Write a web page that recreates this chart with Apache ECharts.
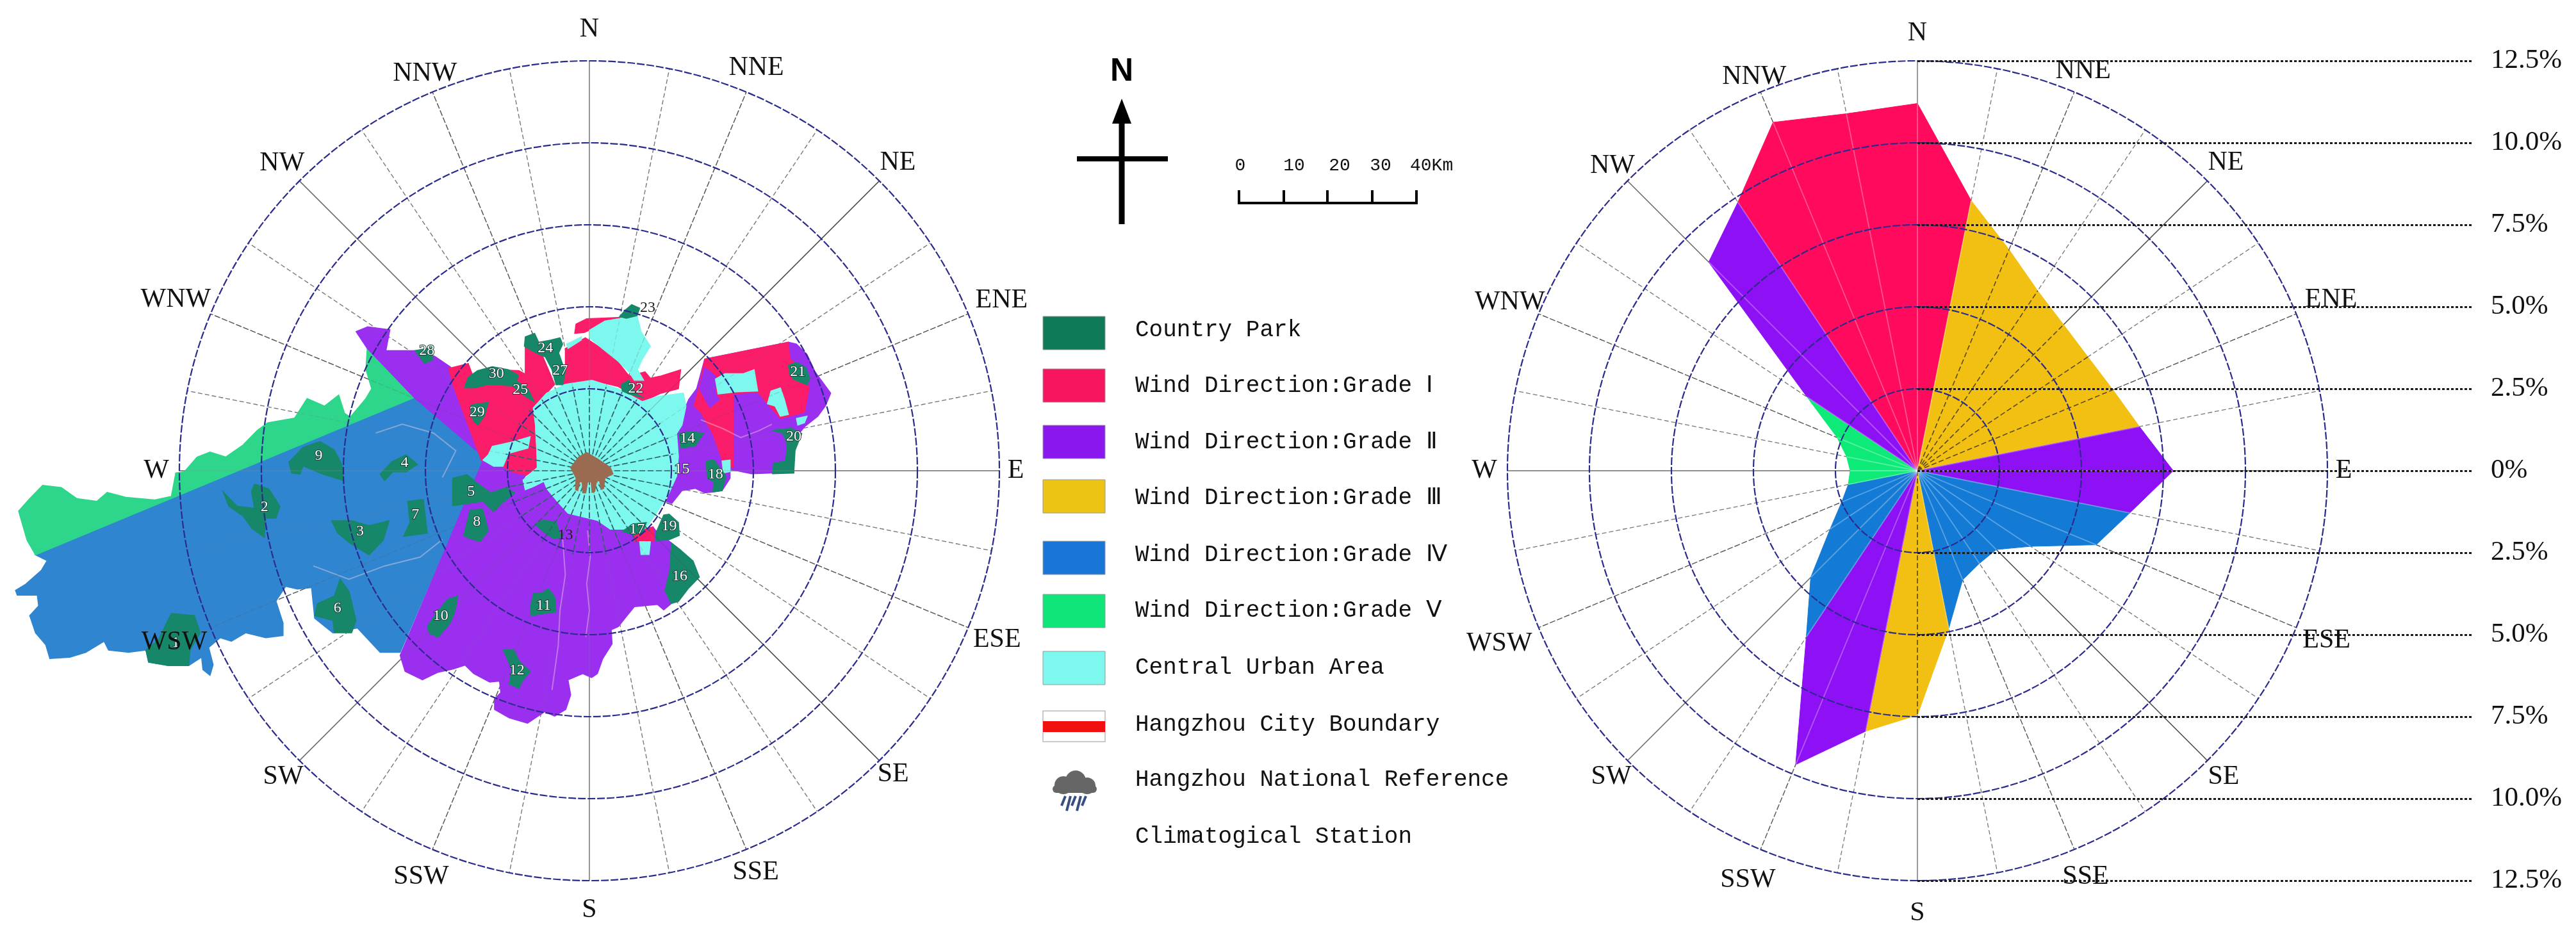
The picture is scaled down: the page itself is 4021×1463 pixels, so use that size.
<!DOCTYPE html>
<html>
<head>
<meta charset="utf-8">
<title>Wind direction grades of Hangzhou</title>
<script src="https://cdn.jsdelivr.net/npm/echarts@6/dist/echarts.min.js"></script>
<style>
  html, body { margin: 0; padding: 0; background: #fff; }
  #chart { width: 4021px; height: 1463px; }
</style>
</head>
<body>
<div id="chart"></div>
<script>
// 16 compass labels, one every 22.5 degrees
const compassNames = ['N', 'NNE', 'NE', 'ENE', 'E', 'ESE', 'SE', 'SSE', 'S', 'SSW', 'SW', 'WSW', 'W', 'WNW', 'NW', 'NNW']
const percentLabels = ['12.5%', '10.0%', '7.5%', '5.0%', '2.5%', '0%', '2.5%', '5.0%', '7.5%', '10.0%', '12.5%']

// wind frequency (%) on the 32 spokes, clockwise from N
const windFreq = [11.2, 8.4, 7.3, 6.6, 6.3, 6.25, 6.45, 6.9, 7.8, 6.6, 5.9, 4.15, 3.4, 3.4, 3.6, 4.9,
  7.45, 8.1, 9.7, 6.1, 4.6, 3.2, 2.5, 2.15, 2.05, 2.2, 2.65, 4.05, 9.0, 9.85, 11.5, 11.1]
// grade of the sector that starts at each spoke
const sectorGrade = ['I', 'III', 'III', 'III', 'III', 'III', 'III', 'II', 'II', 'IV', 'IV', 'IV', 'IV', 'IV', 'IV', 'III',
  'III', 'II', 'II', 'IV', 'IV', 'IV', 'IV', 'V', 'V', 'V', 'V', 'II', 'II', 'I', 'I', 'I']
const gradeColors = { I: '#ff0a5c', II: '#8e10f5', III: '#f2c012', IV: '#137bd6', V: '#0eea78' }

// map outlines, km east / km north of the climatological station
const zoneV = [[-124.4,-19.5],[-126.3,-16.2],[-128.2,-9.6],[-125.7,-6.8],[-122.8,-3.8],[-118.6,-4.3],[-115.1,-6.8],[-110.6,-7.4],[-108.3,-5.4],[-104.1,-6.5],[-97.7,-7.1],[-93.9,-6.3],[-92.9,-1],[-91,-0.75],[-88.1,2.6],[-85.2,3.7],[-81.7,2.6],[-77.8,5.3],[-74.6,8.6],[-72.3,10.3],[-66.2,11.4],[-63.4,15.8],[-59.5,14.1],[-56.3,16.6],[-55,12.5],[-53.7,11.6],[-50.2,15.8],[-48.9,18],[-50.2,22.4],[-49.9,27.1],[-39.3,16]]
const zoneIV = [[-124.4,-19.5],[-121.8,-20.8],[-123.1,-23],[-126.6,-26.1],[-128.9,-27.5],[-128.5,-28.6],[-124,-28.6],[-123.7,-31],[-125.7,-33.2],[-124.4,-37.1],[-122.1,-39.8],[-121.2,-42.9],[-116.7,-42.6],[-113.1,-41.5],[-109,-39],[-108,-41],[-103.5,-41.5],[-99.6,-41],[-99,-43.7],[-94.5,-44.5],[-90,-44.5],[-87.1,-42.6],[-86.8,-45.4],[-85.2,-46.7],[-84.5,-44.3],[-85.5,-40.4],[-82.9,-38.2],[-80.4,-39],[-77.2,-37.1],[-72.7,-38.2],[-68.8,-37.7],[-68.8,-34.9],[-70.4,-29.9],[-68.2,-26.6],[-65.6,-27.2],[-62.4,-26.9],[-61.7,-33.8],[-57.6,-37.1],[-52.1,-36],[-47,-41.5],[-42.5,-41.5],[-23.6,2.5],[-39.3,16]]
const zoneIIWest = [[-52.4,30.9],[-49.8,32],[-44.8,31.3],[-45.7,26.6],[-41.5,26.6],[-37.7,26.6],[-34.7,25.3],[-31.2,22.9],[-23.6,2.5],[-39.3,16],[-49.9,27.1]]
const zoneIWest = [[-31.6,22.6],[-27.2,23.7],[-26.3,21.3],[-20.9,22.3],[-15.8,22.1],[-14.4,21.3],[-14.4,27.6],[-10.8,26.1],[-7.8,19],[-10.8,15.6],[-12,14.2],[-12.3,8.9],[-11.7,0.2],[-14.4,-1.7],[-17.3,-1],[-24.2,1.7],[-30.5,18.5]]
const zoneIISouth = [[-23.6,2.5],[-17.3,-1],[-14.4,-1.7],[-14.9,-2.6],[-14.4,-4.8],[-12.6,-4.1],[-10.2,-2.9],[-9.6,-4.5],[-7.2,-7.4],[-4.8,-10.1],[1.8,-11.7],[4.7,-13.7],[9.5,-13.7],[12.5,-13.7],[14.3,-13.2],[14.9,-14],[18.4,-16.8],[20.6,-18.5],[18.4,-30.5],[16.7,-31.9],[15.3,-30.7],[10.1,-31.2],[8.4,-33.3],[6.5,-35.7],[4.9,-36.4],[5.1,-39.6],[3,-42.9],[1.8,-46.3],[0.5,-47.2],[-1.5,-46.3],[-4.8,-47.7],[-4.2,-51.1],[-5.3,-54.4],[-7.8,-55.9],[-10,-54.9],[-13.9,-57.5],[-18,-56.3],[-21.3,-54.4],[-21.3,-52],[-19.9,-50.6],[-20.2,-48],[-22.4,-48.2],[-26,-46.3],[-27.9,-44.4],[-30.7,-45.3],[-34,-46],[-37.5,-47.7],[-41.4,-45.8],[-42.5,-42.2]]
const zoneIIEast = [[22.3,15.6],[24.1,18],[25.9,24.7],[44.7,28.5],[46.5,28.1],[48.9,25.7],[50.7,21.8],[54.2,17],[53,14.1],[51.3,11.8],[48.3,9.4],[47.1,7.9],[45.9,4.1],[45.9,-1],[41.1,-1],[36.4,-1.2],[31.6,-0.2],[31.6,-2.2],[29.8,-5],[27.7,-5.3],[25.9,-5.5],[23.8,-4.5],[20.8,-5],[18.5,-7.9],[17.3,-7.4],[19.6,-1.7],[20,2.6],[19.6,7.9],[20.8,9.8],[21.7,14.1]]
const zoneIEast = [[25.9,24.7],[44.7,28.5],[45,24.7],[48.6,22.3],[49.3,18],[48.3,12.7],[42.9,11.3],[40,14.6],[37.8,17.3],[32.3,16.8],[32.3,0.2],[30.1,1.2],[27.7,7.9],[25,12.7],[23.5,14.1],[24.7,18.5]]
const zoneIIEastStrip = [[25.9,22.8],[28.3,20.9],[28.3,17],[29.2,15.6],[27.1,13.7],[24.7,18]]
const zoneINorth = [[-5.4,27.1],[-0.9,29.5],[3.5,26.6],[6.5,24],[8.9,20.9],[12.5,21.8],[13.7,20.4],[16.1,20.9],[20.5,22.3],[20,18],[16.1,17],[13.1,15.6],[11.9,14.9],[8.9,17],[6.5,18.5],[0.6,19.9],[-6,19],[-5.4,21.8]]
const zoneINorthTop = [[-3.3,30.5],[-3,32.6],[-0.6,33.8],[7.1,34.1],[4.1,33.3],[0,31.2],[-1.2,30.7]]
const zoneISouth = [[10.1,-14.9],[12.5,-13.7],[14.3,-13.2],[14.6,-16.3],[12.5,-16.3],[10.1,-16.5]]

const urbanCore = [[-12.6,13.7],[-9.6,17],[-5.4,19],[0.6,19.9],[6.5,18],[11.9,15.1],[15.5,16.3],[21.1,17],[21.7,14.1],[20.8,9.8],[19.6,7.9],[20,2.6],[19.6,-1.7],[17.9,-5.5],[14.9,-10.3],[12.5,-13.7],[9.5,-13.7],[4.7,-13.7],[1.8,-11.7],[-4.8,-10.1],[-7.2,-7.4],[-9.6,-4.5],[-10.2,-2.9],[-12.6,-4.1],[-14.4,-4.8],[-14.9,-2.6],[-11.7,0.2],[-12,8.9]]
const urbanPatches = [
  [[-23.9,1.9],[-21.5,0.5],[-19.4,0.5],[-18.2,3.4],[-13.8,4.6],[-13.3,7.2],[-17.3,6],[-21.8,5],[-22.7,3.1]],
  [[0,31.2],[3.5,33.3],[10.7,34.5],[11.6,30.9],[13.7,27.6],[11.9,24.7],[10.8,22.3],[12.2,19.9],[10.1,19.9],[8.9,21.8],[6.5,24.2],[2.9,27.1],[0,29.5]],
  [[-5.1,28.1],[-1.8,29.7],[-1.8,29],[-4.8,27.1]],
  [[28.3,20.2],[30.4,21.4],[34.6,21.4],[37,22.3],[37.8,17.5],[33.1,17.3],[28.9,16.8]],
  [[40.8,17.5],[42.9,18.2],[43.8,15.6],[44.7,12.2],[42.9,11.8],[41.7,14.1],[40,14.6]],
  [[46.5,11.3],[48.9,11.8],[48.3,10.3],[46.8,9.8]],
  [[29.8,1.7],[31.6,1.9],[31.6,-0.7],[30.1,-1]],
  [[11.3,-16.5],[13.7,-16.5],[13.4,-19.4],[11.6,-19.4]]
]
const stationBlob = [[-4.2,0.2],[-2.4,2.6],[-0.6,3.6],[1.8,2.2],[4.7,0.2],[5.3,-1.2],[3.5,-2.1],[3.2,-4.5],[2.6,-4.7],[2.3,-2.8],[1.6,-2.8],[1.2,-5.2],[0.6,-5.4],[0.4,-3],[-0.4,-3],[-0.8,-5.5],[-1.5,-5.5],[-1.6,-3],[-2.2,-3],[-2.6,-5],[-3.1,-4.8],[-3,-2.1]]

const countryParks = [
  [[-96.8,-38.7],[-93.9,-32.7],[-88.7,-33.2],[-87.4,-37.1],[-89.7,-41],[-90,-44.5],[-94.5,-44.5],[-99,-43.7],[-99.6,-41]],
  [[-82.3,-5.2],[-79.1,-8.5],[-75.2,-9],[-75.9,-5.2],[-75.2,-3.5],[-72,-4.6],[-69.5,-8.5],[-70.4,-11.2],[-72.7,-11.2],[-73,-15.6],[-75.9,-13.4],[-77.8,-10.7],[-81,-8.5]],
  [[-57.9,-11.8],[-53.4,-11.8],[-49.5,-12.9],[-45,-11.8],[-46.3,-16.2],[-49.5,-19.5],[-54,-16.7],[-56.6,-14.5]],
  [[-47,-1.3],[-44.4,1.5],[-41.2,3.1],[-38.6,0.9],[-41.2,-0.8],[-44.1,-0.7],[-46,-2.7]],
  [[-30.7,-2.2],[-27.5,-1.4],[-24.8,-3.6],[-22.1,-5.5],[-18.8,-4.3],[-16.7,-5.5],[-19.7,-7.9],[-21.5,-9.8],[-23.9,-7.4],[-30.7,-8.4]],
  [[-61.7,-33.2],[-61.1,-30.5],[-57.3,-28.8],[-56,-25],[-54,-27.7],[-52.4,-34.3],[-53.4,-37.1],[-57.3,-37.1],[-57.6,-34.3]],
  [[-40.8,-7.4],[-37.3,-7],[-36.4,-14.6],[-41.7,-15.3],[-40.3,-12.2]],
  [[-28.2,-15.1],[-26.8,-9.4],[-24,-9.1],[-22.7,-14.1],[-24.6,-16.5],[-27.4,-15.6]],
  [[-67.5,1.4],[-64.3,4.8],[-60.5,6.1],[-57.3,4.2],[-55.6,0.9],[-55.3,-2.7],[-59.8,-1.3],[-64.3,0.6],[-65,-1.3],[-66.9,-1]],
  [[-36.4,-35.7],[-34.2,-32.4],[-31.8,-29.5],[-29.6,-28.8],[-30.1,-31.9],[-31.2,-34.8],[-34,-38.1],[-35.9,-37.2]],
  [[-13,-33.3],[-13.3,-31.4],[-12.5,-28.1],[-10.8,-28.1],[-9.2,-27.1],[-7.8,-29],[-7.5,-32.4],[-11.4,-32.9]],
  [[-19.4,-40.8],[-16.9,-41],[-15.8,-43.4],[-13.3,-45.8],[-15.2,-48.2],[-15.8,-49.6],[-18,-48.7],[-17.4,-45.3]],
  [[-12.2,-12.5],[-10.3,-11.7],[-7.5,-12],[-6.4,-15.6],[-8.1,-15.8],[-10.8,-13.9]],
  [[20.2,7.9],[23.2,8.4],[25.6,7.9],[23.8,5.1],[20.5,4.6]],
  [[26.2,1.7],[28,1.9],[29.2,0.2],[30.7,-1.7],[29.8,-5],[27.7,-5.3],[28,-3.1],[26.5,-2.2]],
  [[18.4,-16.8],[20.6,-18.5],[23.3,-20.9],[24.7,-24.5],[22.2,-27.1],[20,-30],[18.4,-30.5],[17,-27.6],[18.1,-22.8]],
  [[7.4,-14.2],[9.8,-12.5],[12.8,-12.2],[11.9,-14.6],[9.8,-14.9]],
  [[14.9,-14.6],[16.7,-10.5],[17.9,-10.3],[20,-12.2],[20.2,-15.1],[17.9,-16.1],[14.9,-16.3]],
  [[41.1,8.6],[45.3,9.1],[47.7,7.9],[46.2,4.1],[45.9,-1],[41.1,-1.2],[41.4,1.2],[44.1,1.7],[44.4,5.5],[43.5,7.9]],
  [[44.7,23.3],[46.5,24],[48.6,22.8],[49.5,20.4],[48.9,18.9],[45.9,20.1],[45,21.3]],
  [[7.1,19],[8.9,19.9],[10.4,17],[11.9,16.1],[8.9,16.8],[7.4,17.5]],
  [[6.8,34.3],[8,35.7],[9.5,37],[11.3,36.2],[10.7,34.5],[8.3,33.9]],
  [[-14.4,29.7],[-12.3,30.5],[-11.4,28.5],[-8.7,29],[-6.6,29.5],[-6,28.1],[-6.9,26.1],[-5.4,21.8],[-6,18.9],[-7.5,18.9],[-8.4,22.3],[-9.9,25.2],[-12,26.1],[-14.6,27.6]],
  [[-39.2,26.6],[-35.4,27.3],[-35.1,24.6],[-37,23.7],[-38.2,25.3]],
  [[-26.6,14.4],[-22.7,14.9],[-23.6,11.8],[-25.1,9.8],[-26,10.8],[-26.6,12.2]],
  [[-28.1,18.2],[-27.2,20.6],[-25.1,22.1],[-21.8,23],[-18.2,22.3],[-16,21.1],[-16.3,19.7],[-13.8,18],[-12.4,15.1],[-14.4,16.3],[-17.3,18.7],[-22.7,19],[-25.7,18.2]]
]
// pale rivers seen through the fills
const riverLines = [
  [[-0.4,-14],[0.2,-20],[-0.6,-26],[0,-32],[-0.8,-38]],
  [[-6,-16],[-5.4,-24],[-6.6,-32],[-7,-40],[-8.4,-50]],
  [[-48,8],[-42,10],[-35,8],[-30,4],[-33,-2]],
  [[-62,-22],[-54,-25],[-46,-22],[-38,-20],[-33,-16]],
  [[25,11],[30,9],[34,7],[38,8.5],[41,10]]
]
// park numbers: [km east, km north, text]
const parkNumbers = [[-92.9,-39.3,'1'],[-73,-8.7,'2'],[-51.5,-14.2,'3'],[-41.5,1.2,'4'],[-26.6,-5.3,'5'],[-56.6,-31.6,'6'],[-39.1,-10.5,'7'],[-25.3,-12,'8'],[-60.8,2.8,'9'],[-33.4,-33.3,'10'],[-10.3,-30.9,'11'],[-16.3,-45.6,'12'],[-5.4,-15.1,'13'],[22,6.7,'14'],[20.8,-0.2,'15'],[20.3,-24.3,'16'],[10.7,-13.7,'17'],[28.3,-1.4,'18'],[17.9,-13,'19'],[45.9,7.2,'20'],[46.8,21.8,'21'],[10.4,18,'22'],[13.1,36.2,'23'],[-9.9,27.1,'24'],[-15.5,17.8,'25'],[-6.6,22.1,'27'],[-36.5,26.5,'28'],[-25.2,12.7,'29'],[-20.9,21.3,'30']]

const legendRows = ['Country Park', 'Wind Direction:Grade Ⅰ', 'Wind Direction:Grade Ⅱ', 'Wind Direction:Grade Ⅲ', 'Wind Direction:Grade Ⅳ', 'Wind Direction:Grade Ⅴ', 'Central Urban Area', 'Hangzhou City Boundary', 'Hangzhou National Reference', 'Climatogical Station']
const legendColors = ['#0f7a58', '#f7155e', '#8a17ee', '#eec414', '#1975d6', '#10e57a', '#7cf8ef']
const scaleTicks = ['0', '10', '20', '30', '40Km']

const SERIF = '"Liberation Serif", serif'
const MONO = '"Liberation Mono", monospace'
const LEFT_CX = 920, RIGHT_CX = 2993, CY = 735, R = 640
const KM_PX = 6.95 // scale bar: 40 km is 278 px
const MAP = { park: '#17876a', I: '#fb1d6a', II: '#9a2ff0', IV: '#2f85d0', V: '#2dd68b', urban: '#7cf8ef', brown: '#9a6b50' }
// how far out the compass labels sit on each chart
const leftLabelRadius = [13.45, 13.3, 13.3, 13.6, 13, 13.45, 13.1, 13.25, 13.4, 13.4, 13.2, 13.7, 13.2, 13.65, 13.25, 13.1]
const rightLabelRadius = [13.35, 13.2, 13.3, 13.65, 13, 13.5, 13.2, 13.4, 13.5, 13.5, 13.2, 13.8, 13.2, 13.45, 13.15, 13]

const mapRegions = [
  { pts: zoneIV, fill: MAP.IV }, { pts: zoneV, fill: MAP.V }, { pts: zoneIIWest, fill: MAP.II },
  { pts: zoneIWest, fill: MAP.I }, { pts: zoneIISouth, fill: MAP.II }, { pts: zoneIIEast, fill: MAP.II },
  { pts: zoneIEast, fill: MAP.I }, { pts: zoneIIEastStrip, fill: MAP.II }, { pts: zoneINorth, fill: MAP.I },
  { pts: zoneINorthTop, fill: MAP.I }, { pts: urbanCore, fill: MAP.urban }, { pts: zoneISouth, fill: MAP.I }
]
urbanPatches.forEach(p => mapRegions.push({ pts: p, fill: MAP.urban }))
countryParks.forEach(p => mapRegions.push({ pts: p, fill: MAP.park }))

// contiguous sectors of one grade become one polygon, walk starts at the 326.25 degree spoke
const spokeCount = windFreq.length
const spokeStep = 360 / spokeCount
const gradeRuns = []
for (let k = 0; k < spokeCount; k++) {
  const i = (29 + k) % spokeCount
  const last = gradeRuns[gradeRuns.length - 1]
  if (last && last.grade === sectorGrade[i]) last.idx.push(i)
  else gradeRuns.push({ grade: sectorGrade[i], idx: [i] })
}

function spokeStyle(i) {
  if (i % 8 === 0) return { stroke: '#8f8f8f', lineWidth: 1.8 }
  if (i % 8 === 4) return { stroke: i === 20 || i === 28 ? '#666' : '#444', lineWidth: 1.5 }
  if (i % 4 === 2) return { stroke: '#555', lineWidth: 1.4, lineDash: [9, 3] }
  return { stroke: '#777', lineWidth: 1.3, lineDash: [7, 4] }
}

function spokeSeries(polarIndex, z, styleFn, radiusFn) {
  return {
    type: 'custom',
    coordinateSystem: 'polar',
    polarIndex,
    z,
    silent: true,
    data: windFreq.map((v, i) => [v, i * spokeStep]),
    renderItem(params, api) {
      const i = params.dataIndex
      const a = i * spokeStep
      const p0 = api.coord([0, a])
      const p1 = api.coord([radiusFn(i), a])
      return { type: 'line', shape: { x1: p0[0], y1: p0[1], x2: p1[0], y2: p1[1] }, style: styleFn(i) }
    }
  }
}

function compassSeries(polarIndex, radii) {
  return {
    type: 'custom',
    coordinateSystem: 'polar',
    polarIndex,
    z: 7,
    silent: true,
    data: compassNames.map((n, i) => [radii[i], i * 22.5]),
    renderItem(params, api) {
      const p = api.coord([radii[params.dataIndex], params.dataIndex * 22.5])
      return {
        type: 'text', x: p[0], y: p[1],
        style: { text: compassNames[params.dataIndex], fill: '#111', font: '42px ' + SERIF, align: 'center', verticalAlign: 'middle' }
      }
    }
  }
}

function mapPolygonSeries(regions, z) {
  return {
    type: 'custom',
    coordinateSystem: 'cartesian2d',
    xAxisIndex: 0,
    yAxisIndex: 0,
    z,
    silent: true,
    data: regions.map(r => r.pts[0]),
    renderItem(params, api) {
      const r = regions[params.dataIndex]
      return {
        type: 'polygon',
        shape: { points: r.pts.map(p => api.coord(p).slice(0, 2)) },
        style: { fill: r.fill, stroke: r.fill, lineWidth: 1.5 }
      }
    }
  }
}

const polarAxisBase = { type: 'value', min: 0, max: 360, startAngle: 90, clockwise: true, axisLine: { show: false }, axisTick: { show: false }, axisLabel: { show: false }, splitLine: { show: false } }
const radiusAxisBase = {
  type: 'value', min: 0, max: 12.5, interval: 2.5, z: 5,
  axisLine: { show: false }, axisTick: { show: false }, axisLabel: { show: false },
  splitLine: { show: true, lineStyle: { color: '#2b2b8c', width: 2.2, type: [12, 3] } }
}

// annotation block in the middle of the page
const graphics = []
function addText(text, x, y, font, extra) {
  graphics.push({
    type: 'text', x, y, silent: true,
    style: Object.assign({ text, font, fill: '#111', textVerticalAlign: 'middle', verticalAlign: 'middle' }, extra || {})
  })
}
const swatchX = 1628, swatchW = 97, swatchH = 52
const swatchTop = [494, 576, 664, 749, 845, 928, 1017]
const textRowY = [515, 602, 690, 777, 866, 953, 1042, 1131, 1217, 1306]
legendColors.forEach((c, i) => {
  graphics.push({ type: 'rect', silent: true, shape: { x: swatchX, y: swatchTop[i], width: swatchW, height: swatchH }, style: { fill: c, stroke: '#999', lineWidth: 1 } })
})
graphics.push({ type: 'rect', silent: true, shape: { x: swatchX, y: 1110, width: swatchW, height: 48 }, style: { fill: '#fff', stroke: '#bbb', lineWidth: 1.5 } })
graphics.push({ type: 'rect', silent: true, shape: { x: swatchX, y: 1126, width: swatchW, height: 17 }, style: { fill: '#f01010' } })
legendRows.forEach((t, i) => addText(t, 1772, textRowY[i], '36px ' + MONO))
// rain cloud symbol
;[[1660, 1226, 14], [1679, 1219, 16], [1697, 1227, 13]].forEach(c => {
  graphics.push({ type: 'circle', silent: true, shape: { cx: c[0], cy: c[1], r: c[2] }, style: { fill: '#666' } })
})
graphics.push({ type: 'rect', silent: true, shape: { x: 1643, y: 1226, width: 69, height: 12, r: 6 }, style: { fill: '#666' } })
;[1660, 1668, 1676, 1684, 1692].forEach((x, i) => {
  graphics.push({ type: 'line', silent: true, shape: { x1: x + 3, y1: 1243, x2: x - 3, y2: i % 2 ? 1266 : 1258 }, style: { stroke: '#35507f', lineWidth: 4 } })
})
// north arrow
const NX = 1751
addText('N', NX, 112, 'bold 50px "Liberation Sans", sans-serif', { textAlign: 'center', align: 'center', fill: '#000' })
graphics.push({ type: 'line', silent: true, shape: { x1: NX, y1: 185, x2: NX, y2: 350 }, style: { stroke: '#000', lineWidth: 9 } })
graphics.push({ type: 'line', silent: true, shape: { x1: 1681, y1: 248, x2: 1823, y2: 248 }, style: { stroke: '#000', lineWidth: 8 } })
graphics.push({ type: 'polygon', silent: true, shape: { points: [[NX, 154], [NX + 15, 193], [NX - 15, 193]] }, style: { fill: '#000' } })
// scale bar
const barX = [1934, 2004, 2072, 2142, 2211], barLabelX = [1936, 2020, 2091, 2155, 2201]
graphics.push({ type: 'line', silent: true, shape: { x1: 1932, y1: 317, x2: 2213, y2: 317 }, style: { stroke: '#000', lineWidth: 4 } })
barX.forEach(x => graphics.push({ type: 'line', silent: true, shape: { x1: x, y1: 297, x2: x, y2: 318 }, style: { stroke: '#000', lineWidth: 4 } }))
scaleTicks.forEach((t, i) => addText(t, barLabelX[i], 259, '28px ' + MONO, i < 4 ? { textAlign: 'center', align: 'center' } : {}))

const option = {
  animation: false,
  backgroundColor: '#fff',
  polar: [
    { center: [LEFT_CX, CY], radius: [0, R] },
    { center: [RIGHT_CX, CY], radius: [0, R] }
  ],
  angleAxis: [Object.assign({ polarIndex: 0 }, polarAxisBase), Object.assign({ polarIndex: 1 }, polarAxisBase)],
  radiusAxis: [Object.assign({ polarIndex: 0 }, radiusAxisBase), Object.assign({ polarIndex: 1 }, radiusAxisBase)],
  grid: [
    { left: 0, top: 0, width: LEFT_CX * 2, height: CY * 2 },
    { left: RIGHT_CX, top: CY - R, width: 866, height: R * 2 }
  ],
  xAxis: [
    { gridIndex: 0, type: 'value', show: false, min: -LEFT_CX / KM_PX, max: LEFT_CX / KM_PX },
    { gridIndex: 1, type: 'value', show: false, min: 0, max: 1 }
  ],
  yAxis: [
    { gridIndex: 0, type: 'value', show: false, min: -CY / KM_PX, max: CY / KM_PX },
    {
      gridIndex: 1, type: 'value', position: 'right', min: -12.5, max: 12.5, interval: 2.5, z: 6,
      axisLine: { show: false }, axisTick: { show: false },
      axisLabel: {
        margin: 29, fontSize: 43, fontFamily: SERIF, color: '#111',
        formatter: v => percentLabels[Math.round((12.5 - v) / 2.5)]
      },
      splitLine: { show: true, lineStyle: { color: '#1a1a1a', width: 3, type: [4, 3] } }
    }
  ],
  graphic: { elements: graphics },
  series: [
    // left chart: map over the spokes, rings above the map
    spokeSeries(0, 1, spokeStyle, () => 12.5),
    mapPolygonSeries(mapRegions, 2),
    {
      type: 'custom',
      coordinateSystem: 'cartesian2d',
      xAxisIndex: 0,
      yAxisIndex: 0,
      z: 3,
      silent: true,
      data: riverLines.map(l => l[0]),
      renderItem(params, api) {
        return {
          type: 'polyline',
          shape: { points: riverLines[params.dataIndex].map(p => api.coord(p).slice(0, 2)) },
          style: { fill: 'none', stroke: 'rgba(255,220,220,0.4)', lineWidth: 2 }
        }
      }
    },
    spokeSeries(0, 3, i => Object.assign({}, spokeStyle(i), { opacity: 0.22 }), () => 12.5),
    spokeSeries(0, 3, i => ({ stroke: '#2c6468', lineWidth: 1.7, lineDash: [9, 4] }), () => 2.6),
    mapPolygonSeries([{ pts: stationBlob, fill: MAP.brown }], 4),
    {
      type: 'custom',
      coordinateSystem: 'cartesian2d',
      xAxisIndex: 0,
      yAxisIndex: 0,
      z: 6,
      silent: true,
      data: parkNumbers,
      renderItem(params, api) {
        const d = parkNumbers[params.dataIndex]
        const p = api.coord([d[0], d[1]])
        const dark = d[2] === '13' || d[2] === '23'
        return {
          type: 'text', x: p[0], y: p[1],
          style: {
            text: d[2], font: '24px ' + SERIF, align: 'center', verticalAlign: 'middle',
            fill: dark ? '#222' : '#fff', stroke: dark ? '#fff' : '#1c3b36', lineWidth: dark ? 0 : 2
          }
        }
      }
    },
    compassSeries(0, leftLabelRadius),
    // right chart: frequency rose
    spokeSeries(1, 1, spokeStyle, () => 12.5),
    {
      type: 'custom',
      coordinateSystem: 'polar',
      polarIndex: 1,
      z: 2,
      silent: true,
      data: gradeRuns.map(run => [windFreq[run.idx[0]], run.idx[0] * spokeStep]),
      renderItem(params, api) {
        const run = gradeRuns[params.dataIndex]
        const pts = [api.coord([0, 0]).slice(0, 2)]
        run.idx.concat((run.idx[run.idx.length - 1] + 1) % spokeCount).forEach(i => {
          pts.push(api.coord([windFreq[i], i * spokeStep]).slice(0, 2))
        })
        const c = gradeColors[run.grade]
        return { type: 'polygon', shape: { points: pts }, style: { fill: c, stroke: c, lineWidth: 1 } }
      }
    },
    // spokes show through the fill, light on the dark grades and dark on the yellow one
    spokeSeries(1, 3, i => {
      const onYellow = sectorGrade[i] === 'III' && sectorGrade[(i + spokeCount - 1) % spokeCount] === 'III'
      return onYellow ? { stroke: '#5b4a1a', lineWidth: 1.6, lineDash: [8, 4] } : { stroke: 'rgba(255,255,255,0.3)', lineWidth: 1.8 }
    }, i => windFreq[i]),
    compassSeries(1, rightLabelRadius)
  ]
}

const chartInstance = echarts.init(document.getElementById('chart'))
chartInstance.setOption(option)
</script>
</body>
</html>
